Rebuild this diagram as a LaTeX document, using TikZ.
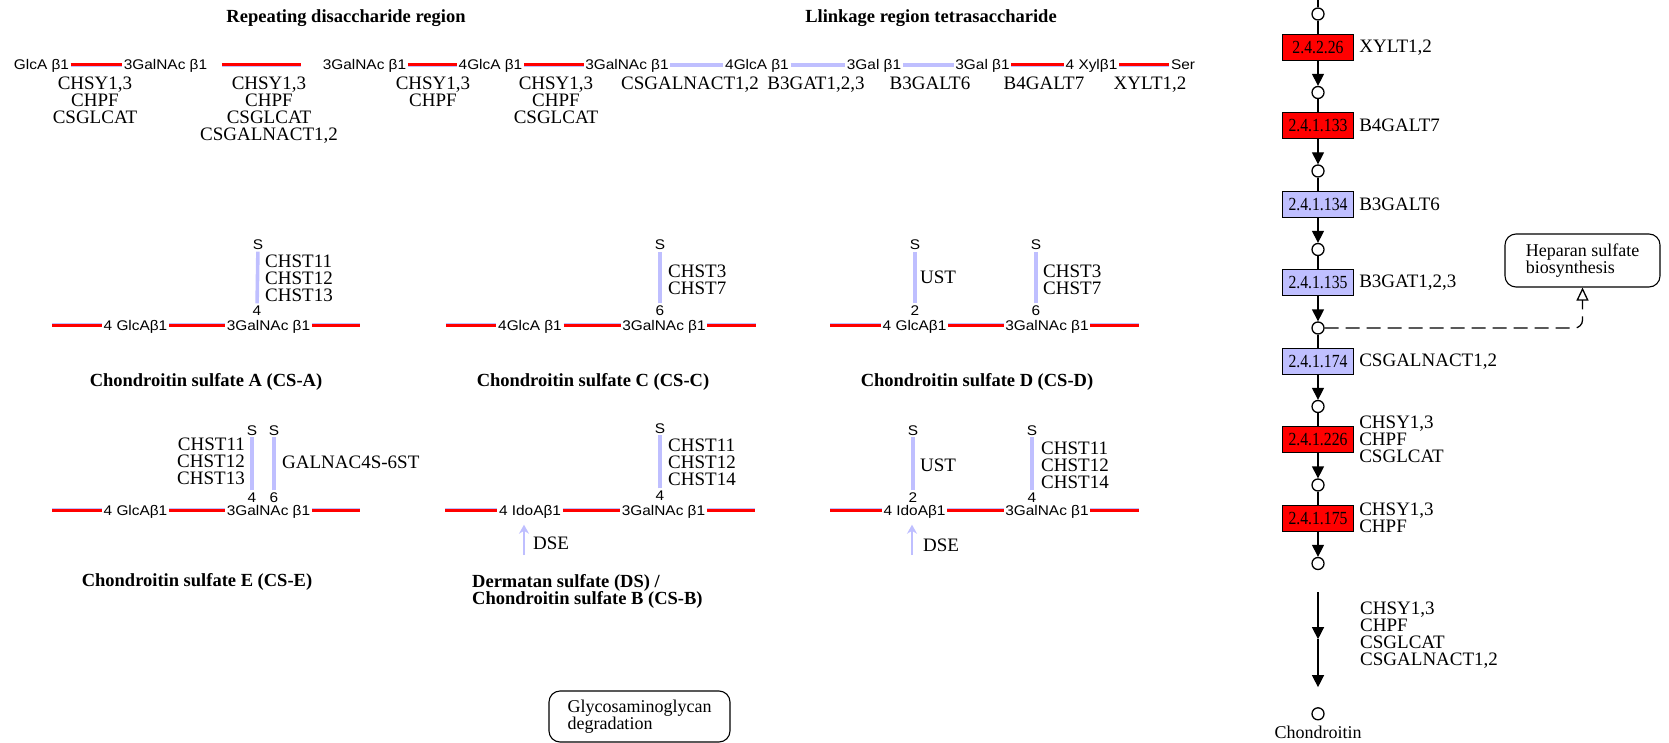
\documentclass[tikz,border=0pt]{standalone}
\usepackage{fontspec}
\setmainfont{Liberation Serif}
\newfontfamily\sugarfont[FakeStretch=1.1]{Liberation Sans}
\newfontfamily\ecfont[FakeStretch=0.85]{Liberation Serif}
\usepackage{xcolor}
\usepackage{tikz}
\usetikzlibrary{positioning,arrows.meta}
\definecolor{lav}{HTML}{BFBFFF}

\begin{document}
\begin{tikzpicture}[x=1pt, y=-1pt,
  sugar/.style={font=\sugarfont\fontsize{14}{14}\selectfont, text height=10pt, text depth=0pt, inner sep=1.5pt},
  enz/.style={font=\fontsize{19}{17}\selectfont, align=center, inner sep=0pt},
  enzl/.style={enz, align=left},
  enzr/.style={enz, align=right},
  ttl/.style={font=\bfseries\fontsize{18.5}{17}\selectfont, inner sep=0pt},
  redlink/.style={draw=lav, line width=0.35pt, double=red, double distance=3pt},
  lavlink/.style={draw=lav, line width=3.6pt},
  sulf/.style={draw=lav, line width=3.6pt},
  dse/.style={draw=lav, line width=2pt, -{Stealth[length=9pt, width=10pt]}},
  ec/.style={draw, line width=1.2pt, minimum width=71pt, minimum height=26pt, inner sep=0pt, font=\ecfont\fontsize{18.5}{18.5}\selectfont},
  ecred/.style={ec, fill=red},
  eclav/.style={ec, fill=lav},
  cpd/.style={circle, draw, fill=white, line width=1.3pt, minimum size=12pt, inner sep=0pt},
  link/.style={line width=1.3pt},
  arr/.style={link, -{Triangle[width=12pt, length=12pt]}},
  maplink/.style={link, dash pattern=on 14pt off 7pt, rounded corners=8pt, -{Triangle[open, width=12pt, length=13pt]}},
  mapbox/.style={draw, line width=1.1pt, rounded corners=11pt, align=left, inner sep=0pt, font=\fontsize{18}{17}\selectfont}
]
\useasboundingbox (0,0) rectangle (1669,743);

\node[ttl] (t1) at (346,18) {Repeating disaccharide region};
\node[ttl] (t2) at (931,18) {Llinkage region tetrasaccharide};

\node[sugar] (g1) at (41.5,65) {GlcA β1};
\node[sugar] (g2) at (165.5,65) {3GalNAc β1};
\node[sugar] (g3) at (364.5,65) {3GalNAc β1};
\node[sugar] (g4) at (490.5,65) {4GlcA β1};
\node[sugar] (g5) at (627,65) {3GalNAc β1};
\node[sugar] (g6) at (757,65) {4GlcA β1};
\node[sugar] (g7) at (874,65) {3Gal β1};
\node[sugar] (g8) at (982.5,65) {3Gal β1};
\node[sugar] (g9) at (1091.5,65) {4 Xylβ1};
\node[sugar] (g10) at (1183,65) {Ser};

\node[enz, anchor=north] (e1) at (95,77) {CHSY1,3\\CHPF\\CSGLCAT};
\node[enz, anchor=north] (e2) at (269,77) {CHSY1,3\\CHPF\\CSGLCAT\\CSGALNACT1,2};
\node[enz, anchor=north] (e3) at (433,77) {CHSY1,3\\CHPF};
\node[enz, anchor=north] (e4) at (556,77) {CHSY1,3\\CHPF\\CSGLCAT};
\node[enz, anchor=north] (e5) at (690,77) {CSGALNACT1,2};
\node[enz, anchor=north] (e6) at (816,77) {B3GAT1,2,3};
\node[enz, anchor=north] (e7) at (930,77) {B3GALT6};
\node[enz, anchor=north] (e8) at (1044,77) {B4GALT7};
\node[enz, anchor=north] (e9) at (1150,77) {XYLT1,2};

\draw[redlink] (g1) -- (g2);
\draw[redlink, shorten <=13pt, shorten >=20pt] (g2) -- (g3);
\draw[redlink] (g3) -- (g4);
\draw[redlink] (g4) -- (g5);
\draw[lavlink] (g5) -- (g6);
\draw[lavlink] (g6) -- (g7);
\draw[lavlink] (g7) -- (g8);
\draw[redlink] (g8) -- (g9);
\draw[redlink] (g9) -- (g10);

\coordinate (csa0) at (52,325);
\node[sugar] (csa1) at (135.5,325) {4 GlcAβ1};
\node[sugar] (csa2) at (268.5,325) {3GalNAc β1};
\coordinate (csa3) at (360,325);
\node[sugar] (csas) at (258,245) {S};
\node[sugar] (csap) at (257,310) {4};
\node[enzl, anchor=west] (csae) at (265,278) {CHST11\\CHST12\\CHST13};
\node[ttl] (csat) at (206,382) {Chondroitin sulfate A (CS-A)};
\draw[redlink] (csa0) -- (csa1);
\draw[redlink] (csa1) -- (csa2);
\draw[redlink] (csa2) -- (csa3);
\draw[sulf] (csap) -- (csas);

\coordinate (csc0) at (446,325);
\node[sugar] (csc1) at (530,325) {4GlcA β1};
\node[sugar] (csc2) at (664,325) {3GalNAc β1};
\coordinate (csc3) at (756,325);
\node[sugar] (cscs) at (660,245) {S};
\node[sugar] (cscp) at (660,310) {6};
\node[enzl, anchor=west] (csce) at (668,280) {CHST3\\CHST7};
\node[ttl] (csct) at (593,382) {Chondroitin sulfate C (CS-C)};
\draw[redlink] (csc0) -- (csc1);
\draw[redlink] (csc1) -- (csc2);
\draw[redlink] (csc2) -- (csc3);
\draw[sulf] (cscp) -- (cscs);

\coordinate (csd0) at (830,325);
\node[sugar] (csd1) at (914.5,325) {4 GlcAβ1};
\node[sugar] (csd2) at (1047,325) {3GalNAc β1};
\coordinate (csd3) at (1139,325);
\node[sugar] (csds1) at (915,245) {S};
\node[sugar] (csdp1) at (915,310) {2};
\node[sugar] (csds2) at (1036,245) {S};
\node[sugar] (csdp2) at (1036,310) {6};
\node[enzl, anchor=west] (csde1) at (920,277) {UST};
\node[enzl, anchor=west] (csde2) at (1043,280) {CHST3\\CHST7};
\node[ttl] (csdt) at (977,382) {Chondroitin sulfate D (CS-D)};
\draw[redlink] (csd0) -- (csd1);
\draw[redlink] (csd1) -- (csd2);
\draw[redlink] (csd2) -- (csd3);
\draw[sulf] (csdp1) -- (csds1);
\draw[sulf] (csdp2) -- (csds2);

\coordinate (cse0) at (52,510);
\node[sugar] (cse1) at (135.5,510) {4 GlcAβ1};
\node[sugar] (cse2) at (268.5,510) {3GalNAc β1};
\coordinate (cse3) at (360,510);
\node[sugar] (cses1) at (252,430) {S};
\node[sugar] (csep1) at (252,497) {4};
\node[sugar] (cses2) at (274,430) {S};
\node[sugar] (csep2) at (274,497) {6};
\node[enzr, anchor=east] (csee1) at (245,461) {CHST11\\CHST12\\CHST13};
\node[enzl, anchor=west] (csee2) at (282,462) {GALNAC4S-6ST};
\node[ttl] (cset) at (197,582) {Chondroitin sulfate E (CS-E)};
\draw[redlink] (cse0) -- (cse1);
\draw[redlink] (cse1) -- (cse2);
\draw[redlink] (cse2) -- (cse3);
\draw[sulf] (csep1) -- (cses1);
\draw[sulf] (csep2) -- (cses2);

\coordinate (dsa0) at (445,510);
\node[sugar] (dsa1) at (530,510) {4 IdoAβ1};
\node[sugar] (dsa2) at (663.5,510) {3GalNAc β1};
\coordinate (dsa3) at (755,510);
\node[sugar] (dsas) at (660,428) {S};
\node[sugar] (dsap) at (660,495) {4};
\node[enzl, anchor=west] (dsae) at (668,462) {CHST11\\CHST12\\CHST14};
\coordinate (dsad) at (524,555);
\node[enzl, anchor=west] (dsal) at (533,543) {DSE};
\node[ttl, align=left, anchor=west] (dsat) at (472,591) {Dermatan sulfate (DS) /\\Chondroitin sulfate B (CS-B)};
\draw[redlink] (dsa0) -- (dsa1);
\draw[redlink] (dsa1) -- (dsa2);
\draw[redlink] (dsa2) -- (dsa3);
\draw[sulf] (dsap) -- (dsas);
\draw[dse, shorten >=8pt] (dsad) -- (dsad |- dsa1.south);

\coordinate (dsb0) at (830,510);
\node[sugar] (dsb1) at (914.5,510) {4 IdoAβ1};
\node[sugar] (dsb2) at (1047,510) {3GalNAc β1};
\coordinate (dsb3) at (1139,510);
\node[sugar] (dsbs1) at (913,430) {S};
\node[sugar] (dsbp1) at (913,497) {2};
\node[sugar] (dsbs2) at (1032,430) {S};
\node[sugar] (dsbp2) at (1032,497) {4};
\node[enzl, anchor=west] (dsbe1) at (920,465) {UST};
\node[enzl, anchor=west] (dsbe2) at (1041,465) {CHST11\\CHST12\\CHST14};
\coordinate (dsbd) at (912,555);
\node[enzl, anchor=west] (dsbl) at (923,545) {DSE};
\draw[redlink] (dsb0) -- (dsb1);
\draw[redlink] (dsb1) -- (dsb2);
\draw[redlink] (dsb2) -- (dsb3);
\draw[sulf] (dsbp1) -- (dsbs1);
\draw[sulf] (dsbp2) -- (dsbs2);
\draw[dse, shorten >=8pt] (dsbd) -- (dsbd |- dsb1.south);

\node[mapbox, minimum width=181pt, minimum height=51pt] (gag) at (639.5,716.5) {Glycosaminoglycan\\degradation};

\coordinate (cptop) at (1318,0);
\node[cpd] (cp0) at (1318,14) {};
\node[ecred, below=13pt of cp0] (ec1) {2.4.2.26};
\node[cpd, below=25pt of ec1] (cp1) {};
\node[ecred, below=13pt of cp1] (ec2) {2.4.1.133};
\node[cpd, below=25pt of ec2] (cp2) {};
\node[eclav, below=13pt of cp2] (ec3) {2.4.1.134};
\node[cpd, below=25pt of ec3] (cp3) {};
\node[eclav, below=13pt of cp3] (ec4) {2.4.1.135};
\node[cpd, below=25pt of ec4] (cp4) {};
\node[eclav, below=13pt of cp4] (ec5) {2.4.1.174};
\node[cpd, below=25pt of ec5] (cp5) {};
\node[ecred, below=13pt of cp5] (ec6) {2.4.1.226};
\node[cpd, below=25pt of ec6] (cp6) {};
\node[ecred, below=13pt of cp6] (ec7) {2.4.1.175};
\node[cpd, below=25pt of ec7] (cp7) {};
\coordinate[below=22pt of cp7] (gtop);
\coordinate[below=47pt of gtop] (gmid);
\coordinate[below=48pt of gmid] (gbot);
\node[cpd, below=20pt of gbot] (cp8) {};
\node[font=\fontsize{18}{17}\selectfont, inner sep=0pt, below=5pt of cp8] (chon) {Chondroitin};

\node[enzl, right=5pt of ec1] (ec1l) {XYLT1,2};
\node[enzl, right=5pt of ec2] (ec2l) {B4GALT7};
\node[enzl, right=5pt of ec3] (ec3l) {B3GALT6};
\node[enzl, right=5pt of ec4] (ec4l) {B3GAT1,2,3};
\node[enzl, right=5pt of ec5] (ec5l) {CSGALNACT1,2};
\node[enzl, right=5pt of ec6] (ec6l) {CHSY1,3\\CHPF\\CSGLCAT};
\node[enzl, right=5pt of ec7] (ec7l) {CHSY1,3\\CHPF};
\node[enzl, anchor=west] (gapl) at (1360,635) {CHSY1,3\\CHPF\\CSGLCAT\\CSGALNACT1,2};

\node[mapbox, minimum width=155pt, minimum height=53pt] (hep) at (1582.5,260.5) {Heparan sulfate\\biosynthesis};

\draw[link] (cptop) -- (cp0);
\draw[link] (cp0) -- (ec1);
\draw[arr] (ec1) -- (cp1);
\draw[link] (cp1) -- (ec2);
\draw[arr] (ec2) -- (cp2);
\draw[link] (cp2) -- (ec3);
\draw[arr] (ec3) -- (cp3);
\draw[link] (cp3) -- (ec4);
\draw[arr] (ec4) -- (cp4);
\draw[link] (cp4) -- (ec5);
\draw[arr] (ec5) -- (cp5);
\draw[link] (cp5) -- (ec6);
\draw[arr] (ec6) -- (cp6);
\draw[link] (cp6) -- (ec7);
\draw[arr] (ec7) -- (cp7);
\draw[arr] (gtop) -- (gmid);
\draw[arr] (gmid) -- (gbot);
\draw[maplink] (cp4) -| (hep.south);
\end{tikzpicture}
\end{document}
